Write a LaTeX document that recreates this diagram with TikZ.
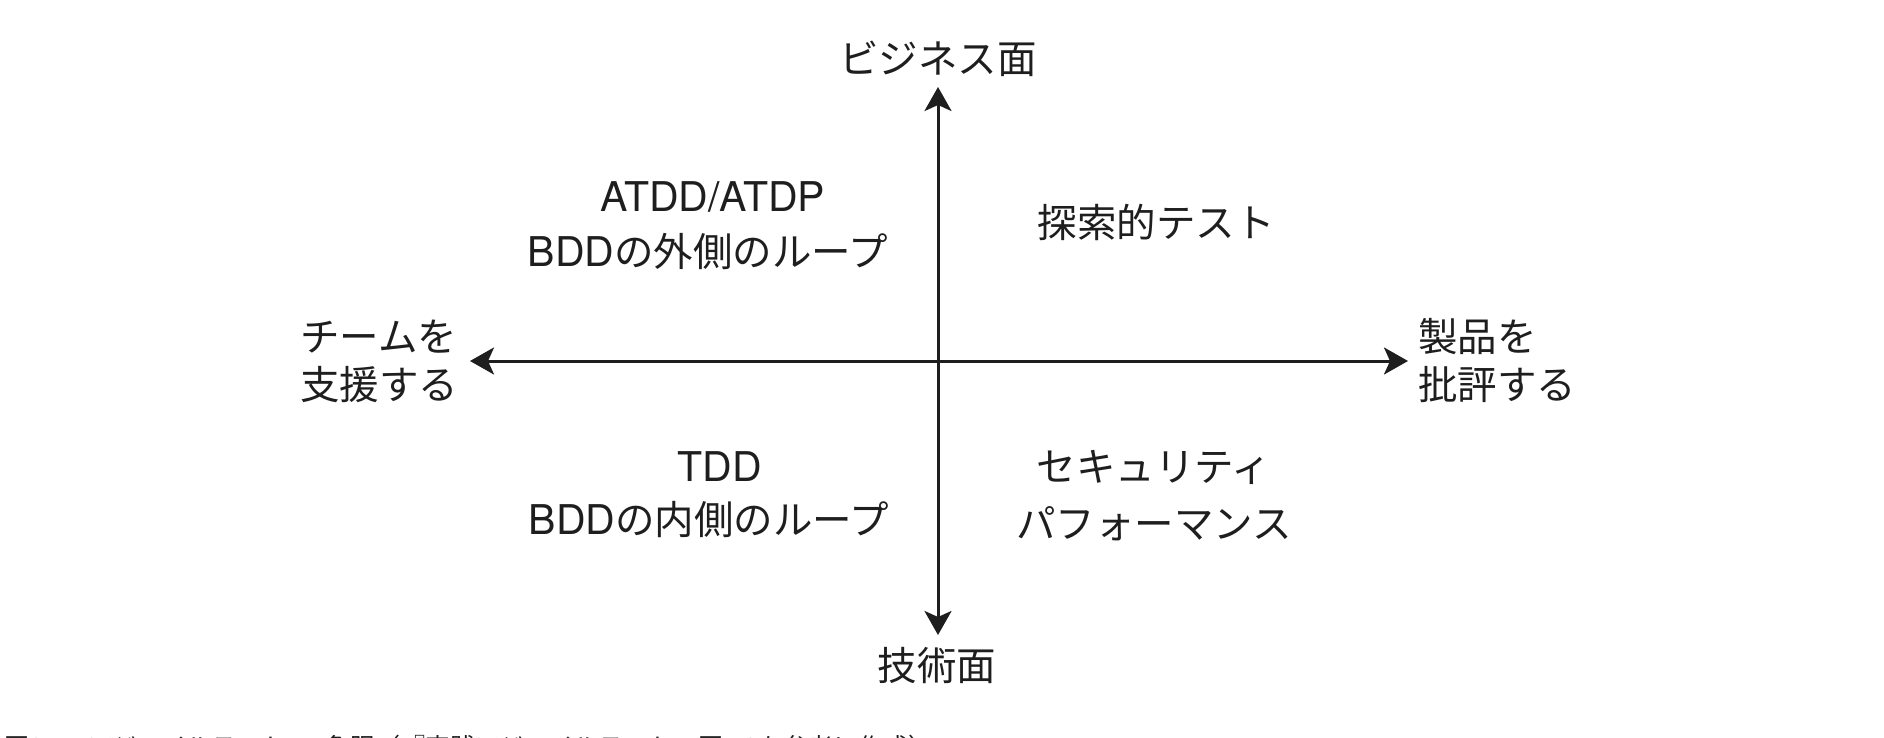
\documentclass[tikz,border=0pt]{standalone}
\usepackage{fontspec}
\setmainfont{Noto Sans CJK JP}
\newfontfamily\latinf{TeX Gyre Heros}
\usetikzlibrary{arrows.meta}
\definecolor{ink}{HTML}{1E1E1E}
\newcommand{\lat}[1]{{\latinf\fontsize{41}{46}\selectfont #1}}
\tikzset{
  lbl/.style={text=ink, font=\fontsize{39.5}{44}\selectfont, inner sep=0pt, anchor=center},
  lbll/.style={lbl, anchor=west},
  axis/.style={draw=ink, line width=3pt, {Stealth[length=24pt,width=27pt,inset=6pt]}-{Stealth[length=24pt,width=27pt,inset=6pt]}},
  captiontext/.style={text=ink, font=\fontsize{25}{28}\selectfont, inner sep=0pt, anchor=base west}
}
\begin{document}
\begin{tikzpicture}[x=1pt,y=-1pt]
\useasboundingbox (0,0) rectangle (1884,738);
\coordinate (top) at (938,87);
\coordinate (bot) at (938,635);
\coordinate (lft) at (470,361);
\coordinate (rgt) at (1408,361);
\draw[axis] (bot) -- (top);
\draw[axis] (lft) -- (rgt);
\node[lbl] (biz) at (938,59) {ビジネス面};
\node[lbl] (tech) at (937,666) {技術面};
\node[lbll] (sup1) at (300,337) {チームを};
\node[lbll] (sup2) at (300,385) {支援する};
\node[lbll] (cri1) at (1418,337) {製品を};
\node[lbll] (cri2) at (1418,385) {批評する};
\node[lbl] (atdd) at (713,197) {\lat{ATDD/ATDP}};
\node[lbl] (bddo) at (708,251) {\lat{BDD}の外側のループ};
\node[lbl] (expl) at (1156,222) {探索的テスト};
\node[lbl] (tdd) at (720,467) {\lat{TDD}};
\node[lbl] (bddi) at (709,520) {\lat{BDD}の内側のループ};
\node[lbl] (sec) at (1154,467) {セキュリティ};
\node[lbl] (perf) at (1154,524) {パフォーマンス};
\node[captiontext] (caption) at (4,756) {図8.1　アジャイルテストの4象限（『実践アジャイルテスト』図1.3を参考に作成）};
\end{tikzpicture}
\end{document}
